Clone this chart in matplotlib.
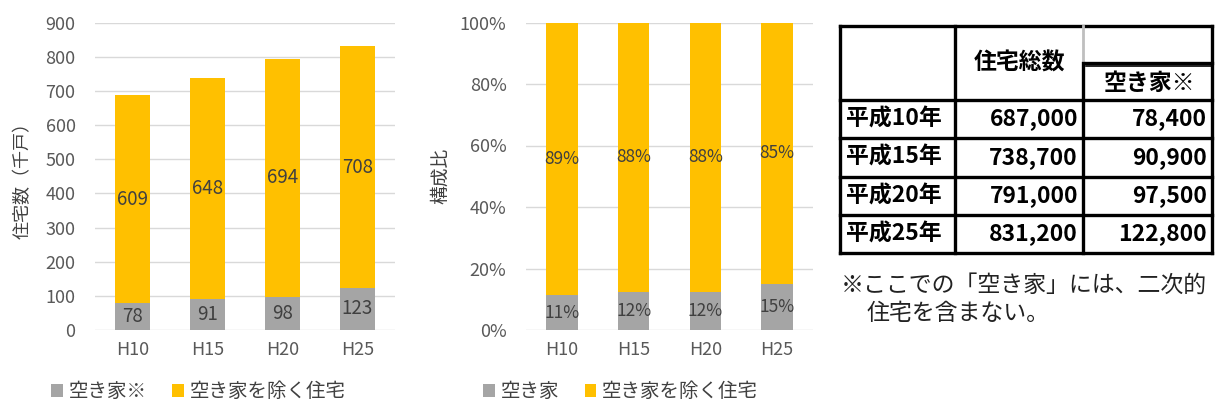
import matplotlib
matplotlib.use('Agg')
import matplotlib.pyplot as plt
import numpy as np

plt.rcParams['font.family'] = ['Noto Sans CJK JP', 'DejaVu Sans']

# data
years = ['H10', 'H15', 'H20', 'H25']
akiya = [78, 91, 98, 123]
sonota = [609, 648, 694, 708]
akiya_pct = [11, 12, 12, 15]
sonota_pct = [89, 88, 88, 85]

tab_rows = ['平成10年', '平成15年', '平成20年', '平成25年']
tab_total = ['687,000', '738,700', '791,000', '831,200']
tab_akiya = ['78,400', '90,900', '97,500', '122,800']
note = ['※ここでの「空き家」には、二次的', '住宅を含まない。']

GRAY = '#A5A5A5'
YEL = '#FFC000'
GRID = '#D9D9D9'
TICK = '#595959'
LAB = '#404040'

fig = plt.figure(figsize=(12.2, 4.09), dpi=100)
W, H = 1220, 409


def style(ax):
    for s in ax.spines.values():
        s.set_visible(False)
    ax.tick_params(length=0, labelsize=13, labelcolor=TICK)
    ax.tick_params(axis='x', pad=8)
    ax.tick_params(axis='y', pad=14)
    ax.yaxis.grid(True, color=GRID, lw=1)
    ax.set_axisbelow(True)


# left chart: counts
ax1 = fig.add_axes([95 / W, 1 - 330 / H, 300 / W, 307.5 / H])
x = np.arange(len(years))
ax1.bar(x, akiya, width=0.47, color=GRAY, label='空き家※')
ax1.bar(x, sonota, width=0.47, bottom=akiya, color=YEL, label='空き家を除く住宅')
for i in range(len(years)):
    ax1.text(x[i], akiya[i] / 2, str(akiya[i]), ha='center', va='center', fontsize=13.5, color=LAB)
    ax1.text(x[i], akiya[i] + sonota[i] / 2, str(sonota[i]), ha='center', va='center', fontsize=13.5, color=LAB)
ax1.set_xlim(-0.5, 3.5)
ax1.set_ylim(0, 900)
ax1.set_yticks(range(0, 901, 100))
ax1.set_xticks(x, years)
style(ax1)
ax1.set_ylabel('住宅数（千戸）', fontsize=13, color=LAB, labelpad=10)
ax1.legend(loc='upper left', bbox_to_anchor=(-0.205, -0.11), ncol=2, frameon=False,
           fontsize=14, handlelength=0.6, handleheight=0.6, handletextpad=0.3,
           columnspacing=1.3, labelcolor=LAB)

# middle chart: shares
ax2 = fig.add_axes([526 / W, 1 - 330 / H, 287 / W, 307.5 / H])
tot = np.array(akiya) + np.array(sonota)
sh_a = np.array(akiya) / tot * 100
sh_s = np.array(sonota) / tot * 100
ax2.bar(x, sh_a, width=0.44, color=GRAY, label='空き家')
ax2.bar(x, sh_s, width=0.44, bottom=sh_a, color=YEL, label='空き家を除く住宅')
for i in range(len(years)):
    ax2.text(x[i], sh_a[i] / 2, f'{akiya_pct[i]}%', ha='center', va='center', fontsize=12.5, color=LAB)
    ax2.text(x[i], sh_a[i] + sh_s[i] / 2, f'{sonota_pct[i]}%', ha='center', va='center', fontsize=12.5, color=LAB)
ax2.set_xlim(-0.5, 3.5)
ax2.set_ylim(0, 100)
ax2.set_yticks(range(0, 101, 20), [f'{v}%' for v in range(0, 101, 20)])
ax2.set_xticks(x, years)
style(ax2)
ax2.set_ylabel('構成比', fontsize=13.5, color=LAB, labelpad=6)
ax2.legend(loc='upper left', bbox_to_anchor=(-0.21, -0.11), ncol=2, frameon=False,
           fontsize=14, handlelength=0.6, handleheight=0.6, handletextpad=0.3,
           columnspacing=1.3, labelcolor=LAB)

# table drawn in pixel space
tb = fig.add_axes([0, 0, 1, 1])
tb.set_xlim(0, W)
tb.set_ylim(H, 0)
tb.axis('off')
cols = [840, 955, 1083, 1212]
rows = [26, 100, 138, 177, 215, 253]
k = dict(color='black', lw=2.4)
tb.plot([cols[0], cols[3]], [rows[0], rows[0]], **k)
tb.plot([cols[0], cols[0]], [rows[0], rows[-1]], **k)
tb.plot([cols[3], cols[3]], [rows[0], rows[-1]], **k)
tb.plot([cols[1], cols[1]], [rows[0], rows[-1]], **k)
tb.plot([cols[2], cols[2]], [rows[0], 63], color='#BFBFBF', lw=2)
tb.plot([cols[2], cols[2]], [63, rows[-1]], **k)
tb.plot([cols[2] + 3, cols[3]], [63, 63], **k)
tb.plot([cols[2] + 3, cols[3]], [66, 66], color='black', lw=1.2)
for r in rows[1:]:
    tb.plot([cols[0], cols[3]], [r, r], **k)
tb.text((cols[1] + cols[2]) / 2, 63, '住宅総数', ha='center', va='center', fontsize=16.5, fontweight='bold')
tb.text((cols[2] + cols[3]) / 2 + 2, 83, '空き家※', ha='center', va='center', fontsize=16.5, fontweight='bold')
for i in range(len(tab_rows)):
    yc = (rows[i + 1] + rows[i + 2]) / 2
    tb.text(cols[0] + 6, yc, tab_rows[i], ha='left', va='center', fontsize=16.5, fontweight='bold')
    tb.text(cols[2] - 5, yc, tab_total[i], ha='right', va='center', fontsize=16.5, fontweight='bold')
    tb.text(cols[3] - 5, yc, tab_akiya[i], ha='right', va='center', fontsize=16.5, fontweight='bold')
tb.text(841, 285, note[0], ha='left', va='center', fontsize=16.5, color='#222222')
tb.text(867, 314, note[1], ha='left', va='center', fontsize=16.5, color='#222222')

fig.savefig('out.png', dpi=100)
